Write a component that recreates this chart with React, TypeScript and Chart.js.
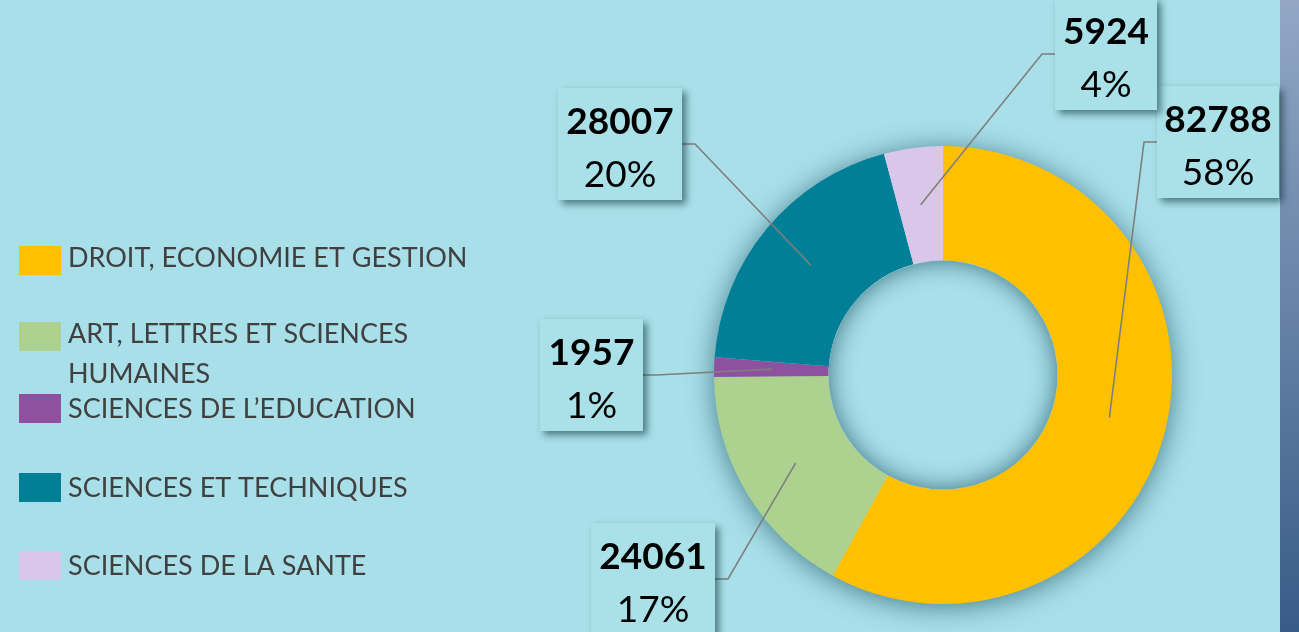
import React, { useEffect, useRef } from 'react';
import { Chart, registerables } from 'chart.js';

Chart.register(...registerables);

// ---- data ----
const categories = [
  'DROIT, ECONOMIE ET GESTION',
  'ART, LETTRES ET SCIENCES HUMAINES',
  'SCIENCES DE L’EDUCATION',
  'SCIENCES ET TECHNIQUES',
  'SCIENCES DE LA SANTE',
];
const legendLines = [
  ['DROIT, ECONOMIE ET GESTION'],
  ['ART, LETTRES ET SCIENCES', 'HUMAINES'],
  ['SCIENCES DE L’EDUCATION'],
  ['SCIENCES ET TECHNIQUES'],
  ['SCIENCES DE LA SANTE'],
];
const values = [82788, 24061, 1957, 28007, 5924];
const colors = ['#FFC000', '#ADD18F', '#8F50A0', '#007F97', '#D9C7E9'];

// ---- layout (styles / positions) ----
const W = 1299;
const H = 632;
const BG = '#a8dfe8';
const TEXT_FONT = 'Lato, "Open Sans", sans-serif';
// label boxes: offset of box (left, top) from doughnut centre, box width
const boxOffsets = [
  [214, -289, 122],
  [-352, 148, 124],
  [-403, -56, 103],
  [-385, -287, 124],
  [112, -377, 102],
];
const BOX_H = 112;
const legendTops = [246, 322, 394, 473, 551];
const legendBaselines = [267, 343, 418, 497, 575];
const LEGEND_LINE_GAP = 40;

const overlayPlugin = {
  id: 'overlay',
  beforeDraw(chart: any) {
    const { ctx, width, height } = chart;
    ctx.save();
    ctx.fillStyle = BG;
    ctx.fillRect(0, 0, width, height);
    const g = ctx.createLinearGradient(0, 0, 0, height);
    g.addColorStop(0, '#93a7c5');
    g.addColorStop(1, '#375c86');
    ctx.fillStyle = g;
    ctx.fillRect(1280, 0, width - 1280, height);
    ctx.restore();
  },
  beforeDatasetsDraw(chart: any) {
    const { ctx } = chart;
    const arc = chart.getDatasetMeta(0).data[0];
    if (!arc) return;
    const { x, y, outerRadius } = arc.getProps(['x', 'y', 'outerRadius'], true);
    ctx.save();
    ctx.shadowColor = 'rgba(20,75,95,0.7)';
    ctx.shadowBlur = 28;
    ctx.shadowOffsetY = 3;
    ctx.fillStyle = BG;
    ctx.beginPath();
    ctx.arc(x, y, outerRadius - 1, 0, Math.PI * 2);
    ctx.fill();
    ctx.restore();
  },
  afterDatasetsDraw(chart: any) {
    const { ctx } = chart;
    const arc = chart.getDatasetMeta(0).data[0];
    if (!arc) return;
    const { x, y, innerRadius } = arc.getProps(['x', 'y', 'innerRadius'], true);
    ctx.save();
    ctx.beginPath();
    ctx.arc(x, y, innerRadius, 0, Math.PI * 2);
    ctx.clip();
    ctx.shadowColor = 'rgba(20,75,95,0.75)';
    ctx.shadowBlur = 24;
    ctx.fillStyle = BG;
    ctx.beginPath();
    ctx.arc(x, y, innerRadius + 60, 0, Math.PI * 2);
    ctx.arc(x, y, innerRadius, 0, Math.PI * 2, true);
    ctx.fill();
    ctx.restore();
  },
  afterDraw(chart: any) {
    const { ctx } = chart;
    const meta = chart.getDatasetMeta(0);
    const total = values.reduce((a, b) => a + b, 0);
    const first = meta.data[0];
    const { x: cx, y: cy } = first.getProps(['x', 'y'], true);

    // leader lines
    meta.data.forEach((el: any, i: number) => {
      const p = el.tooltipPosition(true);
      const [dx, dy, bw] = boxOffsets[i];
      const bx = cx + dx;
      const by = cy + dy;
      const midY = by + BOX_H / 2;
      const boxLeftOfAnchor = p.x > bx + bw;
      const edgeX = boxLeftOfAnchor ? bx + bw : bx;
      const elbowX = boxLeftOfAnchor ? edgeX + 13 : edgeX - 13;
      ctx.save();
      ctx.strokeStyle = '#7f7f7f';
      ctx.lineWidth = 1.6;
      ctx.beginPath();
      ctx.moveTo(edgeX, midY);
      ctx.lineTo(elbowX, midY);
      ctx.lineTo(p.x, p.y);
      ctx.stroke();
      ctx.restore();
    });

    // label boxes
    meta.data.forEach((el: any, i: number) => {
      const [dx, dy, bw] = boxOffsets[i];
      const bx = cx + dx;
      const by = cy + dy;
      ctx.save();
      ctx.shadowColor = 'rgba(0,40,50,0.55)';
      ctx.shadowBlur = 7;
      ctx.shadowOffsetX = 4;
      ctx.shadowOffsetY = 4;
      ctx.fillStyle = '#aae1e9';
      ctx.fillRect(bx, by, bw, BOX_H);
      ctx.restore();

      ctx.save();
      ctx.fillStyle = '#000';
      ctx.textAlign = 'center';
      ctx.textBaseline = 'alphabetic';
      ctx.font = `bold 37px ${TEXT_FONT}`;
      ctx.fillText(String(values[i]), bx + bw / 2, by + 46);
      ctx.font = `37px ${TEXT_FONT}`;
      const pct = Math.round((values[i] / total) * 100) + '%';
      ctx.fillText(pct, bx + bw / 2, by + 99);
      ctx.restore();
    });

    // legend
    ctx.save();
    ctx.font = `27px ${TEXT_FONT}`;
    ctx.textBaseline = 'alphabetic';
    ctx.textAlign = 'left';
    categories.forEach((c, i) => {
      ctx.fillStyle = colors[i];
      ctx.fillRect(19, legendTops[i], 42, 29);
      ctx.fillStyle = '#404040';
      legendLines[i].forEach((line, j) => {
        ctx.fillText(line, 68, legendBaselines[i] + j * LEGEND_LINE_GAP);
      });
    });
    ctx.restore();
  },
};

export default function App() {
  const ref = useRef<HTMLCanvasElement | null>(null);
  useEffect(() => {
    document.body.style.margin = '0';
    const canvas = ref.current;
    if (!canvas) return;
    const chart = new Chart(canvas, {
      type: 'doughnut',
      data: {
        labels: categories,
        datasets: [
          {
            data: values,
            backgroundColor: colors,
            borderWidth: 0,
          },
        ],
      },
      options: {
        responsive: false,
        animation: false,
        cutout: '50%',
        layout: { padding: { left: 714, right: 127, top: 146, bottom: 28 } },
        plugins: {
          legend: { display: false },
          tooltip: { enabled: false },
        },
      },
      plugins: [overlayPlugin],
    });
    return () => chart.destroy();
  }, []);
  return (
    <div style={{ width: W, height: H, background: BG }}>
      <canvas ref={ref} width={W} height={H} style={{ display: 'block' }} />
    </div>
  );
}
